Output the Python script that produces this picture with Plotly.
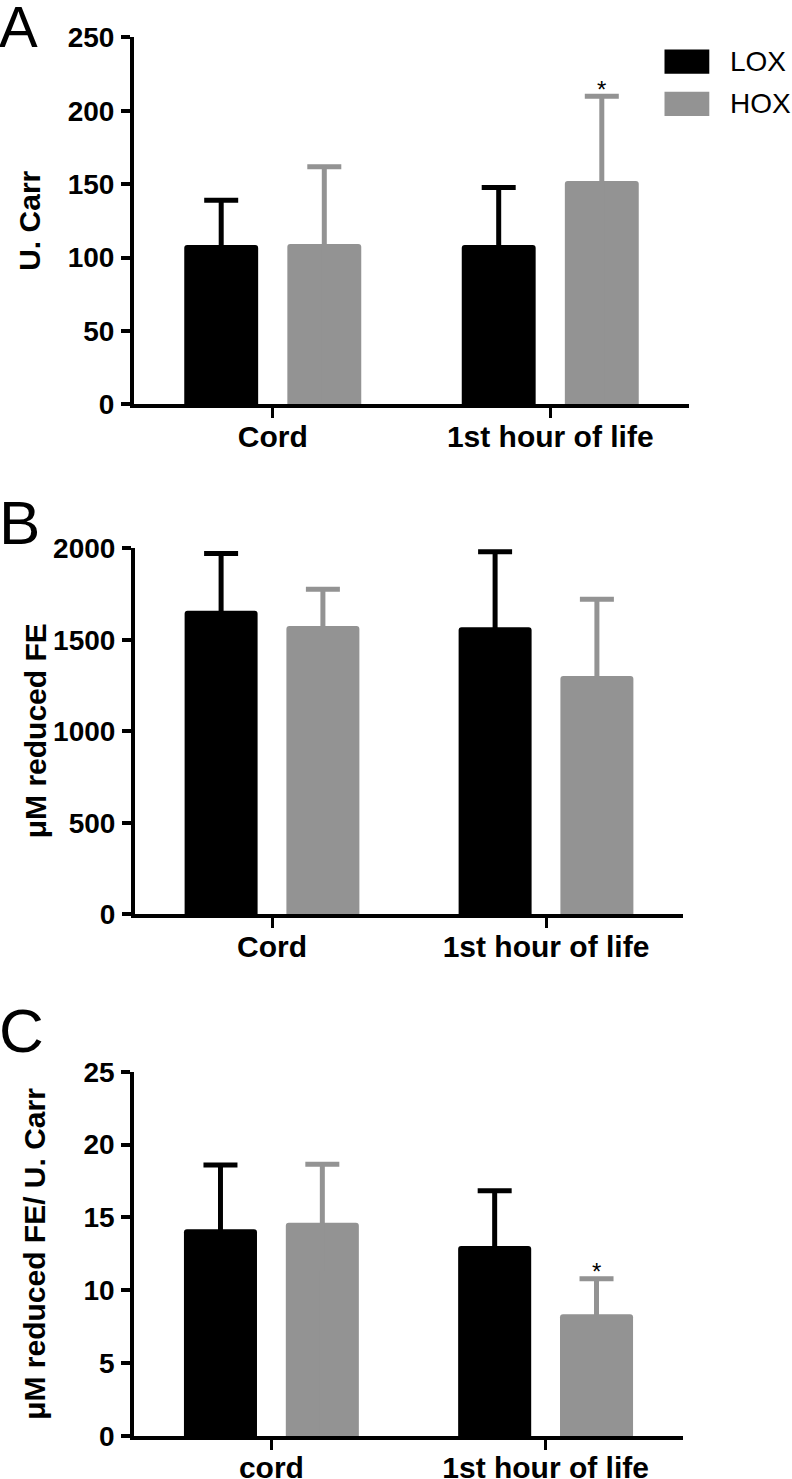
import plotly.graph_objects as go

# ---------------- data ----------------
groups = ["LOX", "HOX"]
cats_ab = ["Cord", "1st hour of life"]
cats_c = ["cord", "1st hour of life"]

ucarr_lox = [108.5, 108.5]
ucarr_lox_sd = [30.5, 39.2]
ucarr_hox = [109.2, 152.1]
ucarr_hox_sd = [52.7, 57.8]

fe_lox = [1659, 1568]
fe_lox_sd = [313, 413]
fe_hox = [1575, 1302]
fe_hox_sd = [201, 420]

ratio_lox = [14.19, 13.04]
ratio_lox_sd = [4.40, 3.79]
ratio_hox = [14.64, 8.35]
ratio_hox_sd = [4.01, 2.44]

y_titles = ["U. Carr", "μM reduced FE", "μM reduced FE/ U. Carr"]
panel_letters = ["A", "B", "C"]
y_ranges = [[0, 250], [0, 2000], [0, 25]]
y_dticks = [50, 500, 5]

BLACK = "#000000"
GRAY = "#939393"
colors = [BLACK, GRAY]
FONT = "Liberation Sans, Arial, sans-serif"

W, H = 792, 1479


def px(x):
    return x / W


def py(y):
    return 1 - y / H


panels = [
    dict(cats=cats_ab, vals=[ucarr_lox, ucarr_hox], sds=[ucarr_lox_sd, ucarr_hox_sd],
         xdom=[px(134), px(689)], ydom=[py(404.3), py(37.3)], xstand=-7),
    dict(cats=cats_ab, vals=[fe_lox, fe_hox], sds=[fe_lox_sd, fe_hox_sd],
         xdom=[px(135), px(683)], ydom=[py(914.3), py(548.3)], xstand=-7),
    dict(cats=cats_c, vals=[ratio_lox, ratio_hox], sds=[ratio_lox_sd, ratio_hox_sd],
         xdom=[px(134.3), px(682.7)], ydom=[py(1436), py(1071.7)], xstand=-8),
]

fig = go.Figure()
layout = {}

for i, p in enumerate(panels):
    sfx = "" if i == 0 else str(i + 1)
    for g, name in enumerate(groups):
        fig.add_trace(go.Bar(
            x=p["cats"], y=p["vals"][g], name=name,
            xaxis="x" + sfx, yaxis="y" + sfx,
            marker=dict(color=colors[g], line=dict(width=0), cornerradius=3),
            error_y=dict(type="data", array=p["sds"][g], arrayminus=p["vals"][g],
                         symmetric=False, color=colors[g], thickness=5, width=17),
            showlegend=False, offsetgroup=name, hoverinfo="skip",
        ))
    layout["xaxis" + sfx] = dict(
        domain=p["xdom"], anchor="y" + sfx, type="category", range=[-0.5, 1.5],
        showline=True, linecolor="black", linewidth=4, ticks="outside", ticklen=10,
        tickwidth=3, tickcolor="black", showgrid=False, zeroline=False,
        automargin=False, fixedrange=True,
        tickfont=dict(family=FONT, size=30, color="black", weight="bold"),
        ticklabelstandoff=p["xstand"],
    )
    layout["yaxis" + sfx] = dict(
        domain=p["ydom"], anchor="x" + sfx, range=y_ranges[i], dtick=y_dticks[i],
        showline=True, linecolor="black", linewidth=4, ticks="outside", ticklen=9,
        tickwidth=4, tickcolor="black", showgrid=False, zeroline=False,
        automargin=False, fixedrange=True,
        tickfont=dict(family=FONT, size=28, color="black", weight="bold"),
        ticklabelstandoff=1,
    )

annotations = []
# y-axis titles
title_x = [30, 35, 35]
for i, p in enumerate(panels):
    ymid = (p["ydom"][0] + p["ydom"][1]) / 2
    annotations.append(dict(
        text=y_titles[i], x=px(title_x[i]), y=ymid, xref="paper", yref="paper",
        xanchor="center", yanchor="middle", textangle=-90, showarrow=False,
        font=dict(family=FONT, size=30, color="black", weight="bold"),
    ))

# panel letters
letter_y = [27, 522, 1030]
letter_size = [58, 62, 62]
for i, L in enumerate(panel_letters):
    annotations.append(dict(
        text=L, x=px(-3), y=py(letter_y[i]), xref="paper", yref="paper",
        xanchor="left", yanchor="middle", showarrow=False,
        font=dict(family=FONT, size=letter_size[i], color="black"),
    ))

# significance stars
star_pts = [(0, ucarr_hox, ucarr_hox_sd), (2, ratio_hox, ratio_hox_sd)]
for idx, vals, sds in star_pts:
    sfx = "" if idx == 0 else str(idx + 1)
    annotations.append(dict(
        text="*", x=panels[idx]["cats"][1], y=vals[1] + sds[1],
        xref="x" + sfx, yref="y" + sfx, xshift=51, yshift=7,
        xanchor="center", yanchor="middle", showarrow=False,
        font=dict(family=FONT, size=24, color="black"),
    ))

# legend
shapes = []
leg_rows = [(49.5, 73.8), (91.7, 116)]
for g, name in enumerate(groups):
    y0, y1 = leg_rows[g]
    shapes.append(dict(type="rect", xref="paper", yref="paper",
                       x0=px(664.5), x1=px(709.3), y0=py(y1), y1=py(y0),
                       fillcolor=colors[g], line=dict(width=0)))
    annotations.append(dict(
        text=name, x=px(728), y=py((y0 + y1) / 2), xref="paper", yref="paper",
        xanchor="left", yanchor="middle", showarrow=False,
        font=dict(family=FONT, size=28, color="black"),
    ))

fig.update_layout(
    width=W, height=H,
    margin=dict(l=0, r=0, t=0, b=0, autoexpand=False),
    paper_bgcolor="white", plot_bgcolor="white",
    barmode="group", bargap=0.257, bargroupgap=0.283,
    annotations=annotations, shapes=shapes,
    showlegend=False,
    **layout,
)

fig.write_html(
    "out.html",
    config={"displayModeBar": False, "staticPlot": True},
    post_script="document.body.style.margin='0';document.body.style.overflow='hidden';",
)
